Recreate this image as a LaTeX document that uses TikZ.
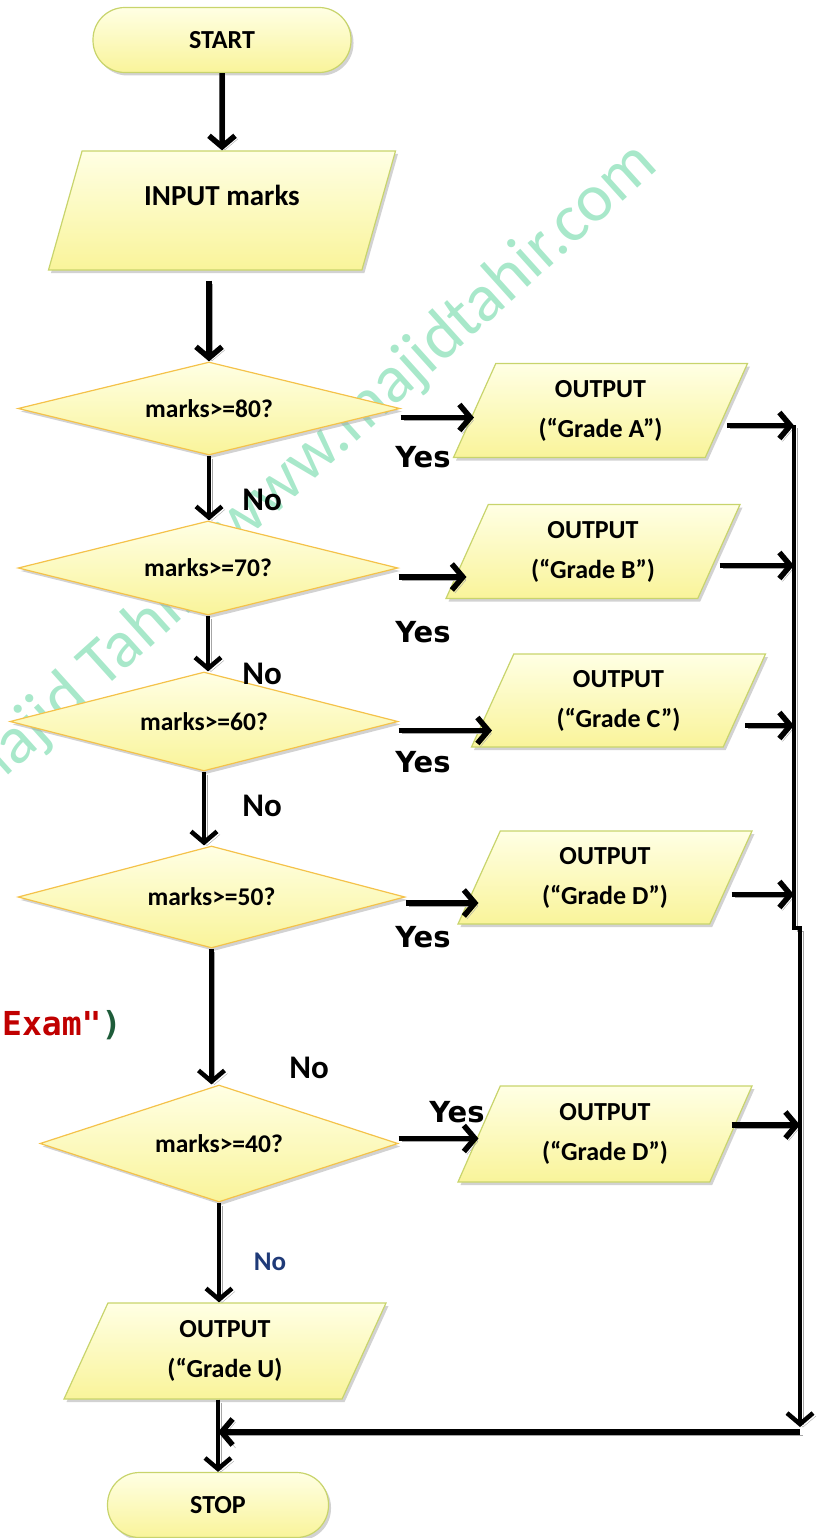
\documentclass[tikz,border=0pt]{standalone}
\usepackage{fontspec}
\setmainfont{Carlito}
\newfontfamily\yesfont{DejaVu Sans}
\newfontfamily\codefont{DejaVu Sans Mono}
\usetikzlibrary{shapes.geometric,shadows,arrows.meta}
\definecolor{shapetop}{HTML}{FFFFE4}
\definecolor{shapebot}{HTML}{F9F49A}
\definecolor{ioline}{HTML}{C8D46C}
\definecolor{decline}{HTML}{F4C24A}
\definecolor{mint}{HTML}{A8E8CA}
\definecolor{examred}{HTML}{C00000}
\definecolor{examgreen}{HTML}{1E5C3A}
\definecolor{navyno}{HTML}{1F3A78}

\begin{document}
\begin{tikzpicture}[x=1pt,y=-1pt,
  box/.style={draw, line width=1.2pt, top color=shapetop, bottom color=shapebot,
    drop shadow={shadow xshift=2.5pt,shadow yshift=-3pt,fill=black!35}},
  term/.style={box, draw=ioline, rectangle, rounded corners=32pt, minimum height=65pt,
    font=\fontsize{26}{30}\selectfont\bfseries},
  io/.style={box, draw=ioline, trapezium, trapezium left angle=58, trapezium right angle=122,
    trapezium stretches body, minimum height=94pt, align=center,
    font=\fontsize{26}{40}\selectfont\bfseries},
  dec/.style={box, draw=decline, diamond, aspect=4, inner sep=1pt,
    font=\fontsize{25.5}{30}\selectfont\bfseries},
  flow/.style={line width=5.5pt, -{Straight Barb[length=11pt,width=26pt]},
    preaction={draw=black!35, transform canvas={xshift=3pt,yshift=-3pt}}},
  yes/.style={font=\yesfont\fontsize{29}{32}\selectfont\bfseries},
  no/.style={font=\fontsize{33}{36}\selectfont\bfseries},
  wmark/.style={rotate=42, text=mint, inner sep=0pt, anchor=base east,
    font=\fontsize{68}{72}\selectfont}]
\useasboundingbox (0,0) rectangle (816,1538);
\clip (0,0) rectangle (816,1538);

\node[wmark] (wmsite) at (660,168) {www.majidtahir.com};
\node[wmark] (wmname) at (203,600) {Majid Tahir};

\node[term, minimum width=258pt] (start) at (222,40) {START};
\node[io, minimum width=347pt, minimum height=119pt, trapezium left angle=59.5,
  trapezium right angle=120.5, text depth=30pt,
  font=\fontsize{29}{32}\selectfont\bfseries] (input) at (222,210.5) {INPUT marks};

\node[dec, minimum width=382pt, minimum height=93pt] (d80) at (209,408.5) {marks>=80?};
\node[dec, minimum width=380pt, minimum height=94pt] (d70) at (208,568) {marks>=70?};
\node[dec, minimum width=388pt, minimum height=99pt] (d60) at (204,721.5) {marks>=60?};
\node[dec, minimum width=387pt, minimum height=102pt] (d50) at (211.5,897) {marks>=50?};
\node[dec, minimum width=358pt, minimum height=117pt] (d40) at (219,1143.5) {marks>=40?};

\node[io, minimum width=294pt] (outA) at (600.5,410.5) {OUTPUT\\(“Grade A”)};
\node[io, minimum width=294pt] (outB) at (593,551.5) {OUTPUT\\(“Grade B”)};
\node[io, minimum width=294pt, minimum height=93pt] (outC) at (618.5,700.5) {OUTPUT\\(“Grade C”)};
\node[io, minimum width=294pt, minimum height=93pt] (outD) at (605,877.5) {OUTPUT\\(“Grade D”)};
\node[io, minimum width=294pt, minimum height=96pt] (outE) at (605,1134) {OUTPUT\\(“Grade D”)};
\node[io, minimum width=322pt, minimum height=96pt, trapezium left angle=57,
  trapezium right angle=123] (outU) at (225,1351) {OUTPUT\\(“Grade U)};

\node[term, minimum width=221pt] (stop) at (218,1505) {STOP};

\node[yes] (yes80) at (423,457) {Yes};
\node[yes] (yes70) at (423,632) {Yes};
\node[yes] (yes60) at (423,762) {Yes};
\node[yes] (yes50) at (423,937) {Yes};
\node[yes] (yes40) at (457,1112) {Yes};
\node[no] (no80) at (262,500) {No};
\node[no] (no70) at (262,674) {No};
\node[no] (no60) at (262,806) {No};
\node[no] (no50) at (309,1068) {No};
\node[font=\fontsize{27}{30}\selectfont\bfseries, text=navyno] (no40) at (270,1262) {No};

\node[anchor=base west, inner sep=0pt, font=\codefont\fontsize{33}{36}\selectfont\bfseries]
  (exam) at (2,1035) {\textcolor{examred}{Exam"}\textcolor{examgreen}{)}};

\coordinate (rA) at (794,425);
\coordinate (rJ) at (794,928);
\coordinate (rK) at (800,928);
\coordinate (rB) at (800,1432);

\draw[flow] (start) -- (input);
\draw[flow, shorten <=10pt] (input.south -| d80.north) -- (d80.north);
\draw[flow, line width=4.5pt] (d80.south) -- (d80.south |- d70.north);
\draw[flow, line width=4.5pt] (d70.south) -- (d70.south |- d60.north);
\draw[flow, line width=4.5pt] (d60.south) -- (d60.south |- d50.north);
\draw[flow, line width=4.5pt] (d50.south) -- (d50.south |- d40.north);
\draw[flow, line width=4.5pt] (d40.south) -- (d40.south |- outU.north);
\draw[flow, line width=4.5pt] (outU.south -| stop.north) -- (stop.north);

\draw[flow] ([yshift=-9pt]d80.east) -- ([yshift=-9pt]d80.east -| outA.west);
\draw[flow] ([yshift=-9pt]d70.east) -- ([yshift=-9pt]d70.east -| outB.west);
\draw[flow] ([yshift=-9pt]d60.east) -- ([yshift=-9pt]d60.east -| outC.west);
\draw[flow] ([yshift=-6pt]d50.east) -- ([yshift=-6pt]d50.east -| outD.west);
\draw[flow] ([yshift=5pt]d40.east) -- ([yshift=5pt]d40.east -| outE.west);

\draw[flow] ([yshift=-15pt]outA.east) -- ([yshift=-15pt]outA.east -| rA);
\draw[flow] ([yshift=-14pt]outB.east) -- ([yshift=-14pt]outB.east -| rA);
\draw[flow] ([yshift=-25pt]outC.east) -- ([yshift=-25pt]outC.east -| rA);
\draw[flow] ([yshift=-17pt]outD.east) -- ([yshift=-17pt]outD.east -| rA);
\draw[flow] ([yshift=9pt]outE.east) -- ([yshift=9pt]outE.east -| rK);

\draw[flow, line width=4.5pt] (rA) -- (rJ) -- (rK) -- ([yshift=5pt]rB);
\draw[flow] (rB) -- (rB -| stop.north);
\end{tikzpicture}
\end{document}
